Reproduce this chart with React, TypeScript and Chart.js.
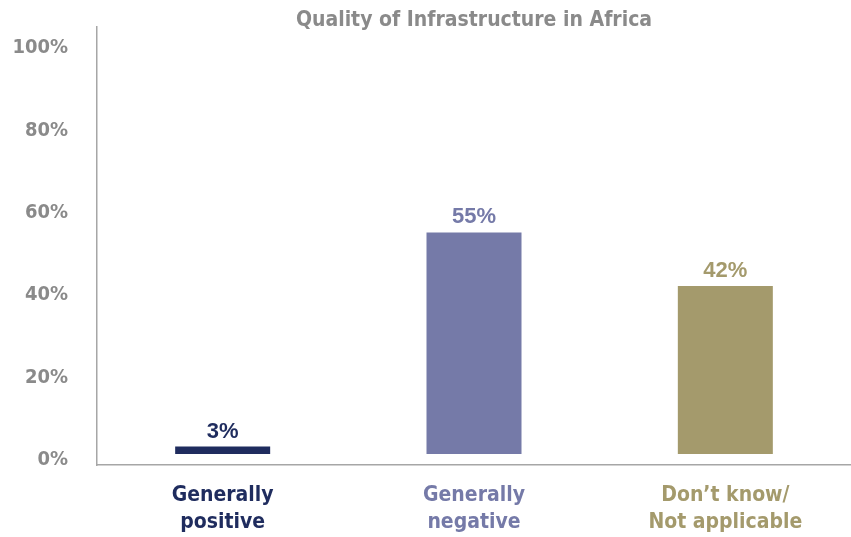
import React, { useEffect, useRef } from "react";
import { Chart, registerables } from "chart.js";

Chart.register(...registerables);

const TITLE = "Quality of Infrastructure in Africa";
const categories: string[][] = [
  ["Generally", "positive"],
  ["Generally", "negative"],
  ["Don\u2019t know/", "Not applicable"],
];
const values: number[] = [3, 55, 42];
const barColors: string[] = ["#1f2c5e", "#757aa8", "#a49a6c"];
const yTicks: number[] = [0, 20, 40, 60, 80, 100];

const GRAY = "#8a8a8a";
const COND = "'DejaVu Sans Condensed', 'Liberation Sans Narrow', 'Liberation Sans', sans-serif";

const labelsPlugin = {
  id: "valueLabels",
  afterDatasetsDraw(chart: any) {
    const ctx = chart.ctx;
    const meta = chart.getDatasetMeta(0);
    ctx.save();
    ctx.font = "bold 22px 'Liberation Sans', Arial, sans-serif";
    ctx.textAlign = "center";
    ctx.textBaseline = "alphabetic";
    meta.data.forEach((bar: any, i: number) => {
      ctx.fillStyle = barColors[i];
      ctx.fillText(values[i] + "%", bar.x, bar.y - 9);
    });
    ctx.restore();
  },
};

const titlePlugin = {
  id: "customTitle",
  afterDraw(chart: any) {
    const ctx = chart.ctx;
    const area = chart.chartArea;
    ctx.save();
    ctx.font = "bold 21px " + COND;
    ctx.fillStyle = GRAY;
    ctx.textAlign = "center";
    ctx.textBaseline = "middle";
    ctx.fillText(TITLE, (area.left + area.right) / 2, 21);
    ctx.restore();
  },
};

export default function App() {
  const ref = useRef<HTMLCanvasElement | null>(null);
  useEffect(() => {
    if (!ref.current) return;
    const chart = new Chart(ref.current, {
      type: "bar",
      data: {
        labels: categories,
        datasets: [
          {
            data: values,
            backgroundColor: barColors,
            borderWidth: 0,
            base: 1.2,
            categoryPercentage: 1,
            barPercentage: 0.378,
          } as any,
        ],
      },
      options: {
        animation: false,
        responsive: false,
        maintainAspectRatio: false,
        layout: { padding: { top: 27, right: 0, left: 0, bottom: 0 } },
        plugins: {
          legend: { display: false },
          title: { display: false },
          tooltip: { enabled: false },
        },
        scales: {
          x: {
            grid: { display: false, drawTicks: false },
            border: { display: true, color: "#a6a6a6", width: 1.5 },
            ticks: {
              padding: 17,
              font: { family: COND, size: 21, weight: "bold", lineHeight: 1.3 },
              color: (c: any) => barColors[c.index] || GRAY,
              maxRotation: 0,
            },
            afterFit: (s: any) => {
              s.height = 72;
            },
          },
          y: {
            min: -1.46,
            max: 104.85,
            grid: { display: false, drawTicks: false },
            border: { display: true, color: "#a6a6a6", width: 1.5 },
            afterBuildTicks: (s: any) => {
              s.ticks = yTicks.map((v) => ({ value: v }));
            },
            ticks: {
              padding: 29,
              labelOffset: 1,
              font: { family: COND, size: 20, weight: "bold" },
              color: GRAY,
              callback: (v: any) => v + "%",
            },
            afterFit: (s: any) => {
              s.width = 97;
              s.paddingTop = 12;
              s.paddingBottom = 12;
            },
          },
        },
      },
      plugins: [labelsPlugin, titlePlugin],
    } as any);
    return () => chart.destroy();
  }, []);
  return (
    <div style={{ position: "fixed", left: 0, top: 0, width: 851, height: 537, background: "#fff" }}>
      <canvas ref={ref} width={851} height={537} style={{ width: 851, height: 537 }} />
    </div>
  );
}
